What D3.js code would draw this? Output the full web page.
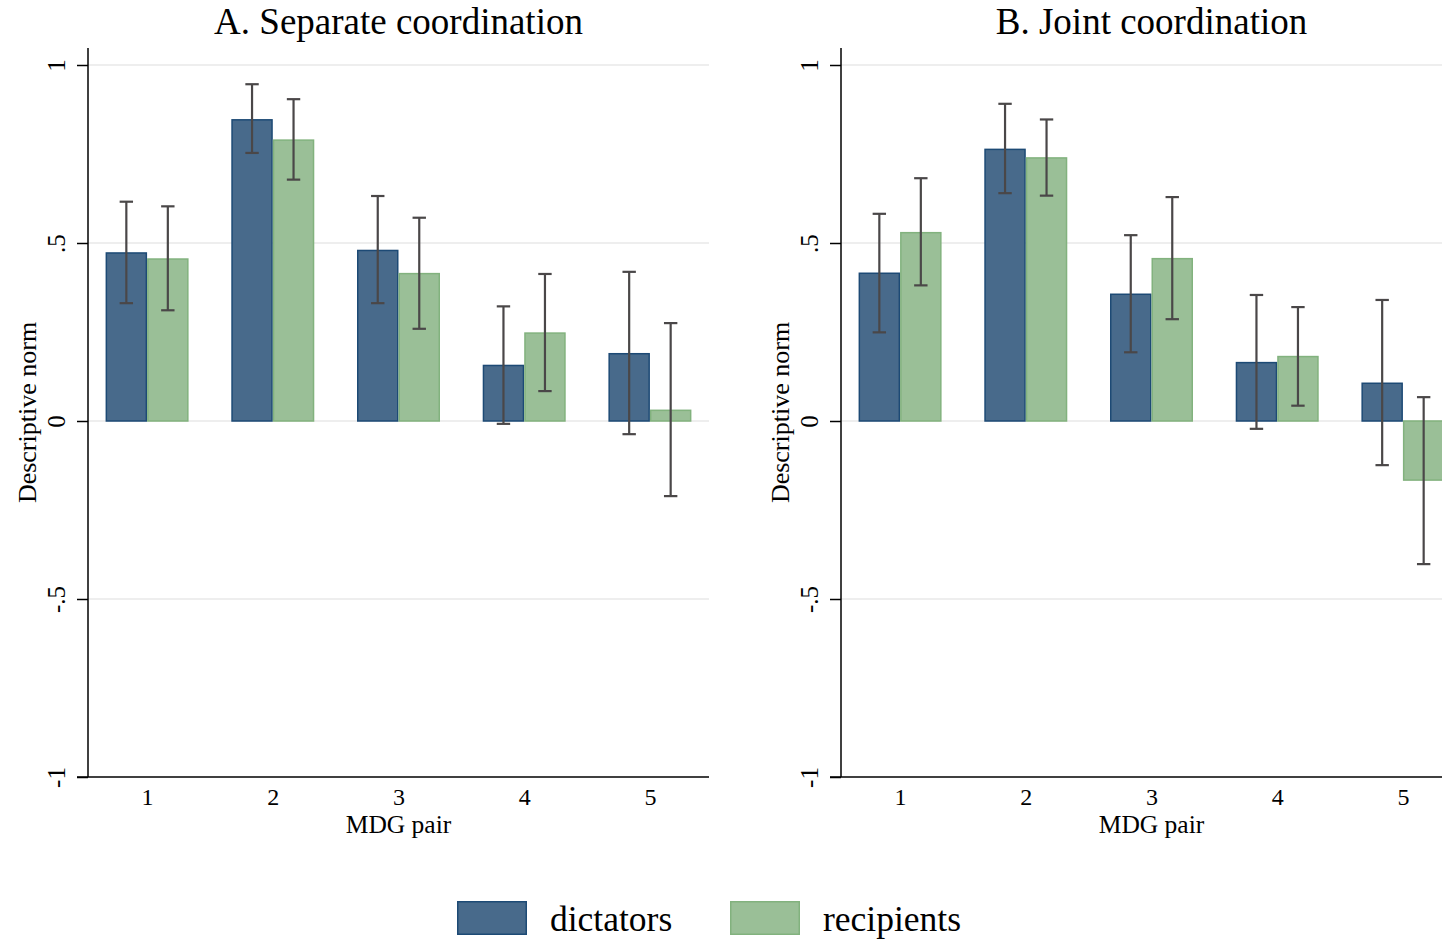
<!DOCTYPE html>
<html>
<head>
<meta charset="utf-8">
<script src="https://cdn.jsdelivr.net/npm/d3@7"></script>
<style>
  html, body { margin: 0; padding: 0; background: #fff; }
  svg { display: block; font-family: "Liberation Serif", "Times New Roman", serif; }
</style>
</head>
<body>
<svg id="chart" width="1442" height="940"></svg>
<script>
// MDG pairs on the x axis
const pairs = [1, 2, 3, 4, 5];
const yTicks = [-1, -0.5, 0, 0.5, 1];
const yTickLabels = ["-1", "-.5", "0", ".5", "1"];
const seriesNames = ["dictators", "recipients"];

// Panel A: separate coordination (mean, lower CI, upper CI)
const sepDictMean = [0.472, 0.846, 0.479, 0.156, 0.189];
const sepDictLo   = [0.331, 0.753, 0.331, -0.008, -0.037];
const sepDictHi   = [0.616, 0.946, 0.632, 0.322, 0.419];
const sepRecMean  = [0.455, 0.789, 0.414, 0.247, 0.030];
const sepRecLo    = [0.311, 0.678, 0.259, 0.084, -0.211];
const sepRecHi    = [0.603, 0.904, 0.571, 0.413, 0.275];

// Panel B: joint coordination
const jntDictMean = [0.415, 0.763, 0.356, 0.164, 0.106];
const jntDictLo   = [0.249, 0.640, 0.193, -0.022, -0.124];
const jntDictHi   = [0.582, 0.891, 0.522, 0.354, 0.340];
const jntRecMean  = [0.529, 0.739, 0.456, 0.181, -0.166];
const jntRecLo    = [0.381, 0.633, 0.286, 0.043, -0.402];
const jntRecHi    = [0.682, 0.847, 0.629, 0.320, 0.067];

const fills   = ["#486a8b", "#9abf97"];
const strokes = ["#1d4a75", "#82b27e"];
const errColor = "#4a4748";

const svg = d3.select("#chart");

function panel(x0, title, dict, rec) {
  const width = 621;
  const top = 48;
  const x = d3.scalePoint().domain(pairs).range([x0, x0 + width]).padding(0.47);
  const y = d3.scaleLinear().domain([-1, 1]).range([777, 65]);
  const barW = 41.5;
  const g = svg.append("g");

  // horizontal grid
  g.selectAll("line.grid").data(yTicks.filter(v => v > -1)).join("line")
    .attr("x1", x0).attr("x2", x0 + width)
    .attr("y1", d => y(d)).attr("y2", d => y(d))
    .attr("stroke", "#e8e8e8").attr("stroke-width", 1.5);

  const series = [dict, rec];
  series.forEach((s, si) => {
    const rows = pairs.map((p, i) => ({ p, m: s.mean[i], lo: s.lo[i], hi: s.hi[i] }));
    const off = si === 0 ? -barW / 2 : barW / 2;
    g.selectAll(null).data(rows).join("rect")
      .attr("x", d => x(d.p) + off - barW / 2 + 0.75)
      .attr("width", barW - 1.5)
      .attr("y", d => Math.min(y(d.m), y(0)))
      .attr("height", d => Math.abs(y(d.m) - y(0)))
      .attr("fill", fills[si]).attr("stroke", strokes[si]).attr("stroke-width", 1.5);
  });

  series.forEach((s, si) => {
    const rows = pairs.map((p, i) => ({ p, m: s.mean[i], lo: s.lo[i], hi: s.hi[i] }));
    const off = si === 0 ? -barW / 2 : barW / 2;
    const eg = g.append("g").attr("stroke", errColor).attr("stroke-width", 2.2);
    eg.selectAll(null).data(rows).join("line")
      .attr("x1", d => x(d.p) + off).attr("x2", d => x(d.p) + off)
      .attr("y1", d => y(d.lo)).attr("y2", d => y(d.hi));
    ["lo", "hi"].forEach(k => {
      eg.selectAll(null).data(rows).join("line")
        .attr("x1", d => x(d.p) + off - 6.7).attr("x2", d => x(d.p) + off + 6.7)
        .attr("y1", d => y(d[k])).attr("y2", d => y(d[k]));
    });
  });

  // y axis
  const yAxis = d3.axisLeft(y).tickValues(yTicks)
    .tickFormat((d, i) => yTickLabels[i]).tickSize(11).tickPadding(0);
  const ya = g.append("g").attr("transform", `translate(${x0},0)`).call(yAxis);
  ya.select(".domain").remove();
  ya.selectAll(".tick line").attr("stroke", "#000").attr("stroke-width", 1.5);
  ya.selectAll(".tick text")
    .attr("x", null).attr("dy", null)
    .attr("transform", "translate(-23,0) rotate(-90)")
    .attr("text-anchor", "middle")
    .attr("fill", "#000")
    .style("font-size", "25px").style("font-family", "Liberation Serif, Times New Roman, serif");
  g.append("line").attr("x1", x0).attr("x2", x0).attr("y1", top).attr("y2", 777)
    .attr("stroke", "#000").attr("stroke-width", 1.5);

  // x axis
  const xAxis = d3.axisBottom(x).tickSize(0).tickPadding(0);
  const xa = g.append("g").attr("transform", "translate(0,777)").call(xAxis);
  xa.select(".domain").remove();
  xa.selectAll(".tick text").attr("dy", null).attr("y", 28)
    .attr("fill", "#000")
    .style("font-size", "24px").style("font-family", "Liberation Serif, Times New Roman, serif");
  g.append("line").attr("x1", x0 - 11).attr("x2", x0 + width).attr("y1", 777).attr("y2", 777)
    .attr("stroke", "#000").attr("stroke-width", 1.5);

  // titles
  g.append("text").attr("x", x0 + width / 2).attr("y", 833)
    .attr("text-anchor", "middle").style("font-size", "25.5px").text("MDG pair");
  g.append("text").attr("transform", `translate(${x0 - 52},${(top + 777) / 2}) rotate(-90)`)
    .attr("text-anchor", "middle").style("font-size", "26px").text("Descriptive norm");
  g.append("text").attr("x", x0 + width / 2).attr("y", 34)
    .attr("text-anchor", "middle").style("font-size", "37px").text(title);
}

panel(88, "A. Separate coordination",
  { mean: sepDictMean, lo: sepDictLo, hi: sepDictHi },
  { mean: sepRecMean, lo: sepRecLo, hi: sepRecHi });
panel(841, "B. Joint coordination",
  { mean: jntDictMean, lo: jntDictLo, hi: jntDictHi },
  { mean: jntRecMean, lo: jntRecLo, hi: jntRecHi });

// legend
const legendX = [457, 730];
const leg = svg.append("g");
seriesNames.forEach((name, i) => {
  leg.append("rect").attr("x", legendX[i] + 0.75).attr("y", 901.75)
    .attr("width", 68.5).attr("height", 32.5)
    .attr("fill", fills[i]).attr("stroke", strokes[i]).attr("stroke-width", 1.5);
  leg.append("text").attr("x", legendX[i] + 93).attr("y", 931)
    .style("font-size", "35.5px").text(name);
});
</script>
</body>
</html>
